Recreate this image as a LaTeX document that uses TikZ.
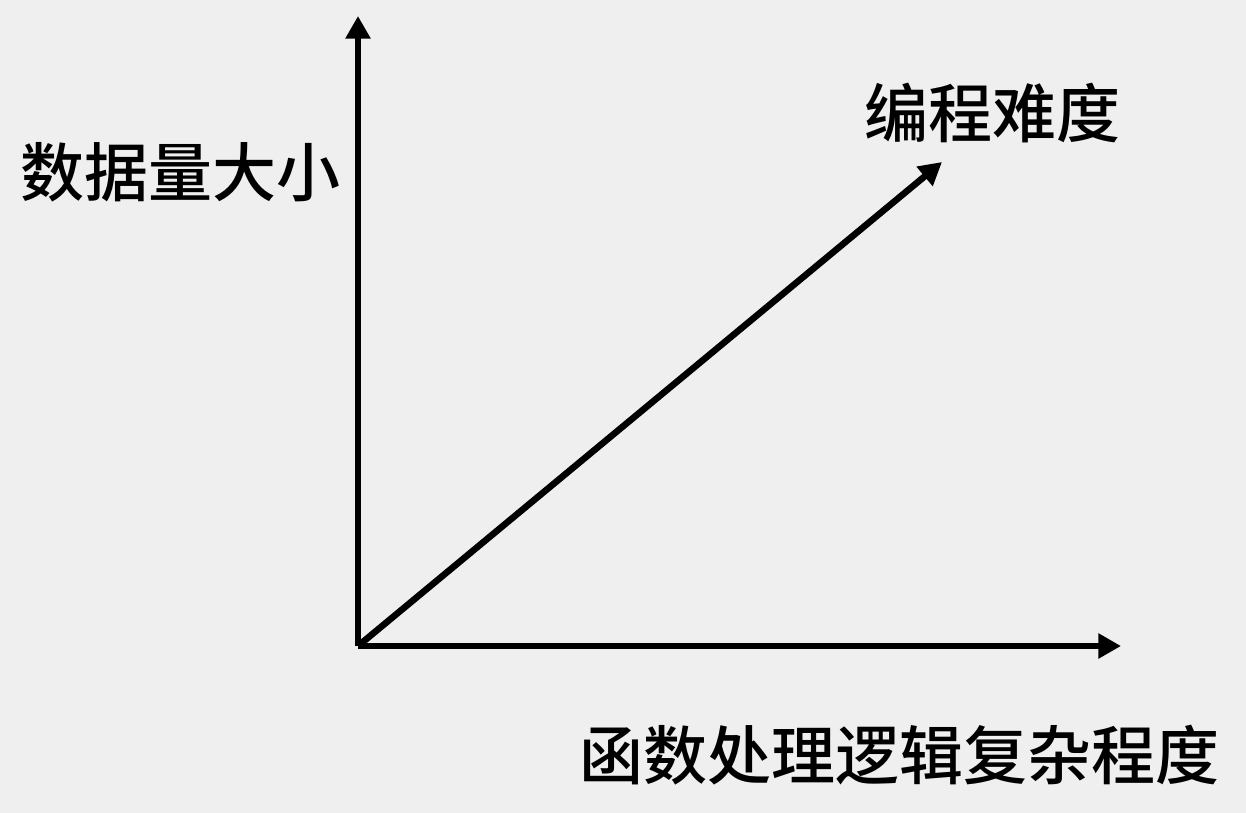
\documentclass[tikz,border=0pt]{standalone}
\usepackage{fontspec}
\usepackage{tikz}
\usetikzlibrary{arrows.meta,positioning}
\newfontfamily\cjk{Noto Sans CJK SC}[UprightFont=* Medium]
\definecolor{bgray}{HTML}{EFEFEF}

\begin{document}
\begin{tikzpicture}[x=0.75pt,y=0.75pt]
\tikzstyle{every node}+=[inner sep=0pt]
\tikzset{axis/.style={black,line width=4.9pt,-{Triangle[length=17pt,width=18pt]}},
  lbl/.style={font=\cjk\fontsize{48pt}{48pt}\selectfont}}
\fill [bgray] (0,0) rectangle (1246,-813);
\useasboundingbox (0,0) rectangle (1246,-813);
\coordinate (o) at (358,-646);
\coordinate (ytop) at (358,-16);
\coordinate (xend) at (1121,-646);
\coordinate (dtip) at (942,-162);
\draw [axis] (o) -- (ytop);
\draw [axis] (o) -- (xend);
\draw [axis] (o) -- (dtip);
\node [lbl] (ylab) at (181,-172) {数据量大小};
\node [lbl] (dlab) at (992,-113) {编程难度};
\node [lbl] (xlab) at (899,-755) {函数处理逻辑复杂程度};
\end{tikzpicture}
\end{document}
